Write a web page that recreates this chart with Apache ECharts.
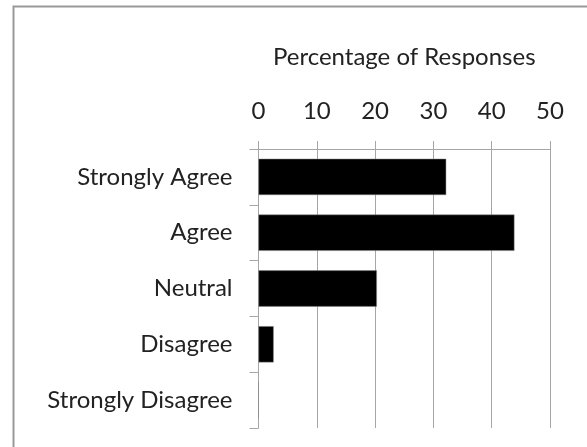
<!DOCTYPE html>
<html>
<head>
<meta charset="utf-8">
<script src="https://cdn.jsdelivr.net/npm/echarts@6/dist/echarts.min.js"></script>
<style>
html,body{margin:0;padding:0;background:#fff;}
#chart{width:587px;height:447px;}
</style>
</head>
<body>
<div id="chart"></div>
<script>
var categories = ['Strongly Agree', 'Agree', 'Neutral', 'Disagree', 'Strongly Disagree'];
var values = [32.2, 43.9, 20.3, 2.6, 0];
var axisTitle = 'Percentage of Responses';
var xMin = 0, xMax = 50, xStep = 10;

var chart = echarts.init(document.getElementById('chart'), null, {renderer: 'canvas'});
var FONT = 'Lato';
var TXT = '#222';
var GRAY = '#a6a6a6';
chart.setOption({
  animation: false,
  backgroundColor: '#fff',
  graphic: [{
    type: 'rect',
    shape: {x: 13.5, y: 6.5, width: 620, height: 500},
    style: {fill: 'none', stroke: '#999', lineWidth: 2},
    silent: true
  }],
  grid: {left: 258.5, top: 149, right: 37, bottom: 19, containLabel: false},
  xAxis: {
    type: 'value',
    position: 'top',
    min: xMin, max: xMax, interval: xStep,
    name: axisTitle,
    nameLocation: 'middle',
    nameGap: 80,
    nameTextStyle: {fontFamily: FONT, fontSize: 24, color: TXT},
    axisLine: {show: true, lineStyle: {color: GRAY, width: 1}},
    axisTick: {show: true, inside: false, length: 8, lineStyle: {color: GRAY}},
    axisLabel: {fontFamily: FONT, fontSize: 24, color: TXT, margin: 26},
    splitLine: {show: true, lineStyle: {color: GRAY, width: 1}}
  },
  yAxis: {
    type: 'category',
    inverse: true,
    data: categories,
    axisLine: {show: true, lineStyle: {color: GRAY, width: 1}},
    axisTick: {show: true, length: 9, lineStyle: {color: GRAY}},
    axisLabel: {fontFamily: FONT, fontSize: 24, color: TXT, margin: 26},
    splitLine: {show: false}
  },
  series: [{
    type: 'bar',
    data: values,
    barCategoryGap: '35%',
    itemStyle: {color: '#000', borderColor: '#888', borderWidth: 0.5}
  }]
});
</script>
</body>
</html>
